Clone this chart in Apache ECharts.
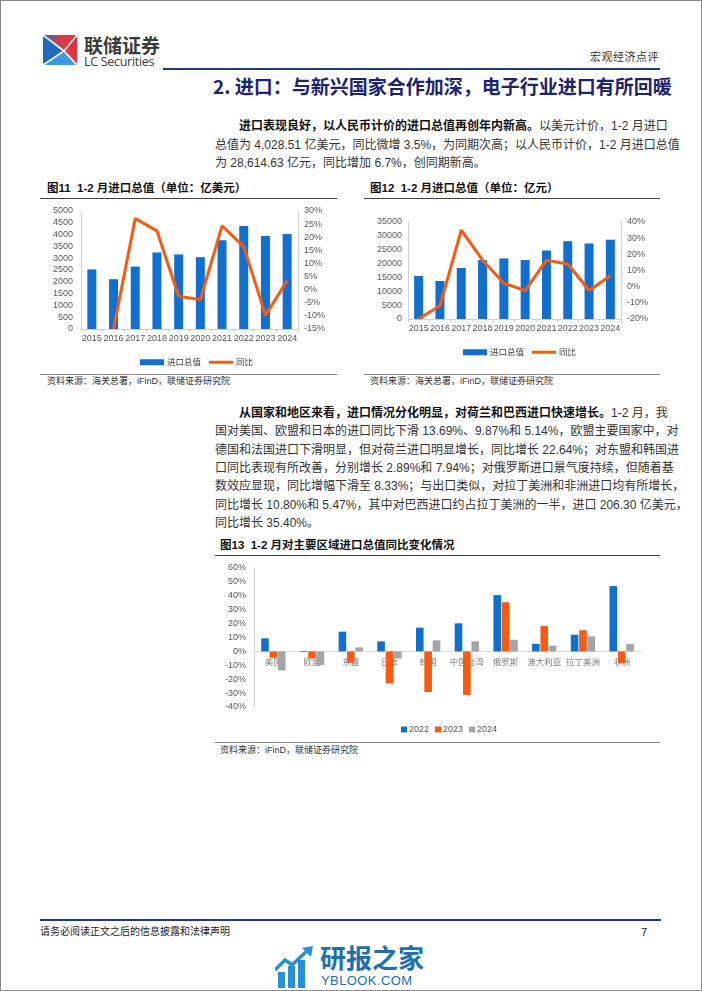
<!DOCTYPE html>
<html><head><meta charset="utf-8">
<script src="https://cdn.jsdelivr.net/npm/echarts@6/dist/echarts.min.js"></script>
<style>
body{margin:0;background:#fff;}
#page{position:relative;width:702px;height:991px;overflow:hidden;background:#fff;font-family:"Liberation Sans","Noto Sans CJK SC",sans-serif;color:#222;}
.abs{position:absolute;white-space:nowrap;}
.pl{position:absolute;left:215px;width:444px;height:18px;line-height:18px;font-size:12px;text-align:justify;text-align-last:justify;white-space:nowrap;color:#333;}
.pl.last{text-align-last:left;}
.pl b{color:#111;}
.ft{position:absolute;font-size:11.5px;font-weight:bold;color:#111;line-height:14px;}
.src{position:absolute;font-size:9px;color:#333;line-height:12px;}
.hl{position:absolute;height:1px;background:#404040;}
.gl{position:absolute;height:1px;background:#8c8c8c;}
#chart{position:absolute;left:0;top:0;width:702px;height:991px;}
</style></head>
<body>
<div id="page">
  <div style="position:absolute;left:0;top:0;width:702px;height:991px;box-sizing:border-box;border:1px solid #8a8a8a;"></div>
  <!-- logo -->
  <svg class="abs" style="left:43px;top:35px" width="34" height="30" viewBox="0 0 34 30">
    <defs><clipPath id="cp"><rect x="0" y="0" width="34" height="30" rx="3"/></clipPath>
    <linearGradient id="g1" x1="0" y1="0" x2="1" y2="0"><stop offset="0" stop-color="#1f6fc4"/><stop offset="0.55" stop-color="#d93a45"/><stop offset="1" stop-color="#e8323a"/></linearGradient></defs>
    <g clip-path="url(#cp)">
      <polygon points="0,0 34,0 21,16" fill="url(#g1)"/>
      <polygon points="34,0 34,30 21,16" fill="#e03540"/>
      <polygon points="0,0 21,16 0,30" fill="#1d6cc2"/>
      <polygon points="0,30 21,16 34,30" fill="#3a9ae0"/>
      <line x1="0" y1="0" x2="21" y2="16" stroke="#fff" stroke-width="1.6"/>
      <line x1="34" y1="0" x2="21" y2="16" stroke="#fff" stroke-width="1.6"/>
      <line x1="0" y1="30" x2="21" y2="16" stroke="#fff" stroke-width="1.6"/>
      <line x1="34" y1="30" x2="21" y2="16" stroke="#fff" stroke-width="1.6"/>
    </g>
  </svg>
  <div class="abs" style="left:84px;top:34px;font-size:19px;font-weight:bold;color:#3a3a3a;line-height:22px;font-family:'Noto Sans CJK SC';">联储证券</div>
  <div class="abs" style="left:84px;top:55px;font-size:12.5px;color:#3a3a3a;line-height:14px;font-family:'Open Sans','Liberation Sans';letter-spacing:-0.3px;">LC Securities</div>
  <div class="abs" style="left:163px;top:68px;width:497px;height:2px;background:#1f3a7a;"></div>
  <div class="abs" style="right:43px;top:50px;font-size:11px;color:#333;line-height:14px;letter-spacing:0.5px;">宏观经济点评</div>
  <div class="abs" style="left:213px;top:75px;width:446px;font-size:19px;font-weight:bold;color:#1c2470;line-height:22px;text-align:justify;text-align-last:justify;font-family:'Noto Sans CJK SC';">2. 进口：与新兴国家合作加深，电子行业进口有所回暖</div>

  <div class="pl" style="top:117px;padding-left:24px;width:420px;"><b>进口表现良好，以人民币计价的进口总值再创年内新高。</b>以美元计价，1-2 月进口</div>
  <div class="pl" style="top:135.5px;">总值为 4,028.51 亿美元，同比微增 3.5%，为同期次高；以人民币计价，1-2 月进口总值</div>
  <div class="pl last" style="top:154px;">为 28,614.63 亿元，同比增加 6.7%，创同期新高。</div>

  <div class="ft" style="left:47px;top:181px;">图11&nbsp;&nbsp;1-2 月进口总值（单位：亿美元）</div>
  <div class="hl" style="left:40px;top:198px;width:297px;"></div>
  <div class="gl" style="left:40px;top:374px;width:297px;"></div>
  <div class="src" style="left:47px;top:375px;">资料来源：海关总署，iFinD，联储证券研究院</div>

  <div class="ft" style="left:370px;top:181px;">图12&nbsp;&nbsp;1-2 月进口总值（单位：亿元）</div>
  <div class="hl" style="left:364px;top:198px;width:296px;"></div>
  <div class="gl" style="left:364px;top:374px;width:296px;"></div>
  <div class="src" style="left:370px;top:375px;">资料来源：海关总署，iFinD，联储证券研究院</div>

  <div class="pl" style="top:404px;padding-left:24px;width:420px;"><b>从国家和地区来看，进口情况分化明显，对荷兰和巴西进口快速增长。</b>1-2 月，我</div>
  <div class="pl" style="top:422.3px;">国对美国、欧盟和日本的进口同比下滑 13.69%、9.87%和 5.14%，欧盟主要国家中，对</div>
  <div class="pl" style="top:440.6px;">德国和法国进口下滑明显，但对荷兰进口明显增长，同比增长 22.64%；对东盟和韩国进</div>
  <div class="pl" style="top:459px;">口同比表现有所改善，分别增长 2.89%和 7.94%；对俄罗斯进口景气度持续，但随着基</div>
  <div class="pl" style="top:477.3px;">数效应显现，同比增幅下滑至 8.33%；与出口类似，对拉丁美洲和非洲进口均有所增长，</div>
  <div class="pl" style="top:495.6px;">同比增长 10.80%和 5.47%，其中对巴西进口约占拉丁美洲的一半，进口 206.30 亿美元，</div>
  <div class="pl last" style="top:514px;">同比增长 35.40%。</div>

  <div class="ft" style="left:220px;top:538px;">图13&nbsp;&nbsp;1-2 月对主要区域进口总值同比变化情况</div>
  <div class="hl" style="left:215px;top:555px;width:445px;"></div>
  <div class="gl" style="left:215px;top:742px;width:445px;"></div>
  <div class="src" style="left:220px;top:744px;">资料来源：iFinD，联储证券研究院</div>

  <div class="abs" style="left:40px;top:919px;width:621px;height:2px;background:#1f3a7a;"></div>
  <div class="abs" style="left:40px;top:925px;font-size:10px;color:#222;line-height:14px;">请务必阅读正文之后的信息披露和法律声明</div>
  <div class="abs" style="left:641px;top:925px;font-size:11px;color:#222;line-height:14px;">7</div>

  <!-- watermark -->
  <svg class="abs" style="left:275px;top:946px" width="40" height="42" viewBox="0 0 40 42">
    <rect x="3" y="26" width="7" height="16" fill="#2a8ed6"/>
    <rect x="13" y="20" width="7" height="22" fill="#2a8ed6"/>
    <rect x="23" y="14" width="7" height="28" fill="#2a8ed6"/>
    <polyline points="0,24 10,14 17,19 33,4" fill="none" stroke="#2a8ed6" stroke-width="3.5"/>
    <polygon points="27,2 38,0 36,11" fill="#2a8ed6"/>
  </svg>
  <div class="abs" style="left:320px;top:942px;font-size:26px;font-weight:bold;color:#1d6fb5;line-height:30px;font-family:'Noto Sans CJK SC';">研报之家</div>
  <div class="abs" style="left:321px;top:973px;font-size:13px;color:#1d6fb5;line-height:15px;letter-spacing:0.4px;">YBLOOK.COM</div>

  <div id="chart"></div>
</div>
<script>
const years = ['2015','2016','2017','2018','2019','2020','2021','2022','2023','2024'];
const usdImports = [2525, 2110, 2645, 3245, 3160, 3045, 3765, 4365, 3940, 4029];
const usdYoY = [null, -15, 27.1, 22.4, -2.5, -3.8, 24.3, 16.4, -9.8, 3.5];
const cnyImports = [15530, 13740, 18400, 21260, 21860, 21260, 24730, 28070, 27240, 28615];
const cnyYoY = [-19.9, -11.8, 34.9, 16.4, 2.1, -2.4, 16.4, 14.0, -2.4, 6.7];
const regions = ['美国','欧盟','东盟','日本','韩国','中国台湾','俄罗斯','澳大利亚','拉丁美洲','非洲'];
const yoy2022 = [9.4, -0.5, 14.2, 7.2, 17.1, 20.2, 40.5, 5.5, 12.0, 47.0];
const yoy2023 = [-4.6, -5.0, -8.2, -23.1, -29.2, -31.3, 35.4, 18.3, 15.2, -8.4];
const yoy2024 = [-13.69, -9.87, 2.89, -5.14, 7.94, 7.2, 8.33, 4.1, 10.80, 5.47];

const BLUE = '#1170cf', ORANGE = '#f85a12', GRAY = '#a5a5a5';
const FONT = '"Liberation Sans","Noto Sans CJK SC",sans-serif';
const lab = {color:'#595959', fontSize:9, fontFamily:FONT};
const axLine = {show:true, lineStyle:{color:'#d0d0d0'}};
const tick = {show:true, length:3, lineStyle:{color:'#d0d0d0'}};
const plain = v => String(v);
const pct = v => v + '%';
const LINE_ICON = 'path://M0,0 L24,0 L24,3 L0,3 Z';

// fig13 grid geometry; x axis is shifted up to the 0% level
const g3Top = 568, g3H = 139, y3Min = -40, y3Max = 60;
const zeroOffset = -g3H * (0 - y3Min) / (y3Max - y3Min);

const chart = echarts.init(document.getElementById('chart'), null, {renderer:'canvas'});
chart.setOption({
  animation:false,
  backgroundColor:'transparent',
  textStyle:{fontFamily:FONT},
  grid:[
    {left:81, top:211, width:217, height:118},
    {left:408, top:222, width:213, height:97},
    {left:254, top:g3Top, width:387, height:g3H}
  ],
  xAxis:[
    {type:'category', gridIndex:0, data:years, axisLine:{show:true,onZero:false,lineStyle:{color:'#d0d0d0'}}, axisTick:tick, axisLabel:Object.assign({margin:5, interval:0}, lab)},
    {type:'category', gridIndex:1, data:years, axisLine:{show:true,onZero:false,lineStyle:{color:'#d0d0d0'}}, axisTick:tick, axisLabel:Object.assign({margin:5, interval:0}, lab)},
    {type:'category', gridIndex:2, data:regions, position:'bottom', offset:zeroOffset, axisLine:{show:true,onZero:false,lineStyle:{color:'#d9d9d9'}}, axisTick:{show:false}, axisLabel:{color:'#7f7f7f', fontSize:8.5, margin:6, interval:0, fontFamily:'"Noto Sans CJK SC"'}}
  ],
  yAxis:[
    {type:'value', gridIndex:0, min:0, max:5000, interval:500, splitLine:{show:false}, axisLine:axLine, axisTick:{show:false}, axisLabel:Object.assign({margin:8, formatter:plain}, lab)},
    {type:'value', gridIndex:0, position:'right', min:-15, max:30, interval:5, splitLine:{show:false}, axisLine:axLine, axisTick:{show:false}, axisLabel:Object.assign({margin:6, formatter:pct}, lab)},
    {type:'value', gridIndex:1, min:0, max:35000, interval:5000, splitLine:{show:false}, axisLine:axLine, axisTick:{show:false}, axisLabel:Object.assign({margin:6, formatter:plain}, lab)},
    {type:'value', gridIndex:1, position:'right', min:-20, max:40, interval:10, splitLine:{show:false}, axisLine:axLine, axisTick:{show:false}, axisLabel:Object.assign({margin:6, formatter:pct}, lab)},
    {type:'value', gridIndex:2, min:y3Min, max:y3Max, interval:10, splitLine:{show:false}, axisLine:axLine, axisTick:{show:false}, axisLabel:Object.assign({margin:8, formatter:pct}, lab)}
  ],
  legend:[
    {left:135, top:353, itemWidth:24, itemHeight:6, itemGap:8, symbolKeepAspect:true, data:[{name:'进口总值',icon:'rect'},{name:'同比',icon:LINE_ICON}], textStyle:{fontSize:8.5,color:'#404040',fontFamily:'"Noto Sans CJK SC"',padding:[0,0,0,-2]}},
    {left:458, top:343, itemWidth:24, itemHeight:6, itemGap:8, symbolKeepAspect:true, data:[{name:'进口总值',icon:'rect'},{name:'同比',icon:LINE_ICON}], textStyle:{fontSize:8.5,color:'#404040',fontFamily:'"Noto Sans CJK SC"',padding:[0,0,0,-2]}},
    {left:396, top:720, itemWidth:6, itemHeight:6, itemGap:6, icon:'rect', data:['2022','2023','2024'], textStyle:{fontSize:9,color:'#595959',padding:[0,0,0,-3]}}
  ],
  series:[
    {name:'进口总值', type:'bar', xAxisIndex:0, yAxisIndex:0, data:usdImports, barWidth:9, itemStyle:{color:BLUE}},
    {name:'同比', type:'line', xAxisIndex:0, yAxisIndex:1, data:usdYoY, symbol:'none', showSymbol:false, lineStyle:{color:ORANGE,width:3}, itemStyle:{color:ORANGE}, z:5},
    {name:'进口总值', type:'bar', xAxisIndex:1, yAxisIndex:2, data:cnyImports, barWidth:9, itemStyle:{color:BLUE}},
    {name:'同比', type:'line', xAxisIndex:1, yAxisIndex:3, data:cnyYoY, symbol:'none', showSymbol:false, lineStyle:{color:ORANGE,width:3}, itemStyle:{color:ORANGE}, z:5},
    {name:'2022', type:'bar', xAxisIndex:2, yAxisIndex:4, data:yoy2022, barWidth:7.6, barGap:'10%', itemStyle:{color:BLUE}},
    {name:'2023', type:'bar', xAxisIndex:2, yAxisIndex:4, data:yoy2023, barWidth:7.6, barGap:'10%', itemStyle:{color:ORANGE}},
    {name:'2024', type:'bar', xAxisIndex:2, yAxisIndex:4, data:yoy2024, barWidth:7.6, barGap:'10%', itemStyle:{color:GRAY}}
  ]
});
</script>
</body></html>
